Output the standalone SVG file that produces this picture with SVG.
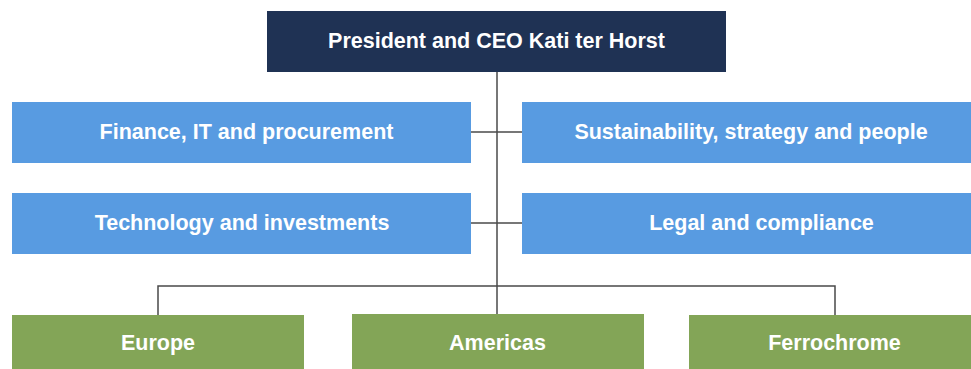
<svg xmlns="http://www.w3.org/2000/svg" width="971" height="369" viewBox="0 0 971 369">
  <style>
    .box text { font-family: "Liberation Sans", Arial, sans-serif; font-weight: bold; font-size: 21.5px; fill: #ffffff; text-anchor: middle; dominant-baseline: central; }
    .ceo rect { fill: #1f3254; }
    .staff rect { fill: #589be1; }
    .unit rect { fill: #83a557; }
    .links { fill: none; stroke: #4a4a4a; stroke-width: 1.5; }
  </style>
  <rect width="971" height="369" fill="#ffffff"/>

  <!-- connectors -->
  <g id="connectors" class="links">
    <line x1="497" y1="71" x2="497" y2="315"/>
    <line x1="471" y1="132" x2="522" y2="132"/>
    <line x1="471" y1="223" x2="522" y2="223"/>
    <polyline points="158,315 158,286 835,286 835,315"/>
  </g>

  <g id="ceo" class="box ceo">
    <rect x="267" y="11" width="459" height="61"/>
    <text x="496.5" y="41">President and CEO Kati ter Horst</text>
  </g>

  <g id="finance" class="box staff">
    <rect x="12" y="102" width="459" height="61"/>
    <text x="246.5" y="132">Finance, IT and procurement</text>
  </g>
  <g id="sustainability" class="box staff">
    <rect x="522" y="102" width="449" height="61"/>
    <text x="751" y="132">Sustainability, strategy and people</text>
  </g>
  <g id="technology" class="box staff">
    <rect x="12" y="193" width="459" height="61"/>
    <text x="242" y="223">Technology and investments</text>
  </g>
  <g id="legal" class="box staff">
    <rect x="522" y="193" width="449" height="61"/>
    <text x="761.5" y="223">Legal and compliance</text>
  </g>

  <g id="europe" class="box unit">
    <rect x="12" y="315" width="292" height="54"/>
    <text x="158" y="343">Europe</text>
  </g>
  <g id="americas" class="box unit">
    <rect x="352" y="314" width="292" height="55"/>
    <text x="497.5" y="343">Americas</text>
  </g>
  <g id="ferrochrome" class="box unit">
    <rect x="689" y="315" width="282" height="54"/>
    <text x="834.5" y="343">Ferrochrome</text>
  </g>
</svg>
